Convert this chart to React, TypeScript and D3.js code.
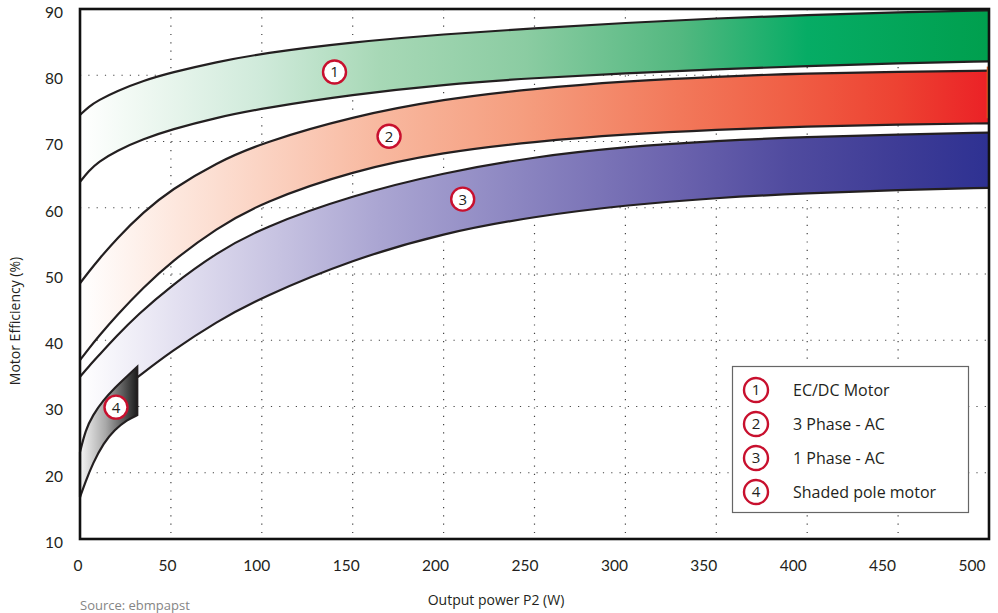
import React from 'react';
import * as d3 from 'd3';

// ---------- data ----------
const xTicks = [0, 50, 100, 150, 200, 250, 300, 350, 400, 450, 500];
const yTicks = [10, 20, 30, 40, 50, 60, 70, 80, 90];

const gridP = [0, 5, 10, 20, 35, 50, 75, 100, 150, 200, 250, 300, 350, 400, 450, 500];
const ecUpper = [74.0, 75.3, 76.2, 77.6, 79.2, 80.4, 82.0, 83.3, 85.0, 86.2, 87.1, 87.9, 88.6, 89.1, 89.5, 89.8];
const ecLower = [63.9, 65.6, 66.9, 68.6, 70.4, 71.8, 73.6, 75.0, 77.1, 78.6, 79.6, 80.3, 80.9, 81.4, 81.8, 82.1];
const threeUpper = [48.6, 50.4, 52.1, 55.3, 59.4, 62.7, 66.8, 69.8, 73.8, 76.4, 78.0, 79.1, 79.8, 80.3, 80.5, 80.7];
const threeLower = [37.0, 38.8, 40.5, 43.7, 48.0, 51.8, 56.9, 60.8, 65.6, 68.4, 70.0, 71.1, 71.8, 72.3, 72.55, 72.75];

const oneUpperP = [0, 5, 10, 20, 31.5, 50, 75, 100, 150, 200, 250, 300, 350, 400, 450, 500];
const oneUpper = [34.5, 36.1, 37.6, 40.6, 43.8, 48.2, 53.2, 57.0, 61.9, 65.3, 67.7, 69.2, 70.1, 70.7, 71.05, 71.35];
const oneLowerP = [31.5, 50, 75, 100, 150, 200, 250, 300, 350, 400, 450, 500];
const oneLower = [34.4, 38.3, 42.8, 46.5, 52.2, 56.2, 58.7, 60.4, 61.5, 62.2, 62.7, 63.0];

const shadedP = [0, 3, 7, 13, 19, 26, 31.5];
const shadedUpper = [23.1, 26.4, 28.7, 31.0, 32.8, 34.6, 36.0];
const shadedLower = [16.3, 18.6, 21.4, 24.5, 26.5, 28.0, 28.7];

const markerLabels = ['1', '2', '3', '4'];
const markerP = [140, 170, 210.5, 19.8];
const markerV = [80.5, 70.8, 61.3, 29.9];

const legendItems = ['EC/DC Motor', '3 Phase - AC', '1 Phase - AC', 'Shaded pole motor'];

const greenStops: [number, string][] = [[0, '#ffffff'], [0.05, '#f3faf5'], [0.2, '#cfeada'], [0.33, '#a7d8b6'], [0.49, '#8bcca2'], [0.66, '#53b880'], [0.8, '#06ac65'], [1, '#009f4e']];
const redStops: [number, string][] = [[0, '#ffffff'], [0.11, '#fde6dc'], [0.33, '#f8b89f'], [0.49, '#f59d7e'], [0.66, '#f2785a'], [0.78, '#f05f45'], [0.9, '#ed4232'], [1, '#eb2126']];
const blueStops: [number, string][] = [[0, '#ffffff'], [0.11, '#e2dff0'], [0.33, '#aaa5d2'], [0.49, '#8a84c0'], [0.66, '#6a62ad'], [0.78, '#504b9f'], [0.9, '#3e3c96'], [1, '#2e3192']];
const grayStops: [number, string][] = [[0, '#f6f6f6'], [0.45, '#a8a8a8'], [1, '#1c1c1c']];

// ---------- scales ----------
const W = 998, H = 613;
const x = d3.scaleLinear().domain([0, 500]).range([80, 989]);
const xLabel = d3.scaleLinear().domain([0, 500]).range([78, 972]);
const y = d3.scaleLinear().domain([10, 90]).range([539, 9]);

const INK = '#231f20';
const RED = '#c8102e';

// smooth line through (P[i], v[i]); reverse=true traces it from right to left
function linePath(P: number[], v: number[], reverse = false) {
  let idx = d3.range(P.length);
  if (reverse) idx = idx.reverse();
  const gen = d3.line<number>()
    .x((i) => x(P[i]))
    .y((i) => y(v[i]))
    .curve(d3.curveBasis);
  return gen(idx) as string;
}
// closed band: upper edge left->right, then each lower piece right->left
function bandPath(upP: number[], up: number[], lowers: [number[], number[]][]) {
  let d = linePath(upP, up);
  lowers.forEach(([P, v]) => {
    d += linePath(P, v, true).replace(/^M/, 'L');
  });
  return d + 'Z';
}

function Grad({ id, stops, x1, x2 }: { id: string; stops: [number, string][]; x1: number; x2: number }) {
  return (
    <linearGradient id={id} gradientUnits="userSpaceOnUse" x1={x1} x2={x2} y1={0} y2={0}>
      {stops.map(([o, c], i) => <stop key={i} offset={o} stopColor={c} />)}
    </linearGradient>
  );
}

export default function App() {
  const axisFont = 'Lato, "Open Sans", sans-serif';
  const legFont = '"Open Sans", "Noto Sans", sans-serif';
  const lastI = threeUpper.length - 1;
  const edge = { fill: 'none', stroke: INK, strokeWidth: 2.2 };
  return (
    <div style={{ position: 'absolute', left: 0, top: 0 }}>
      <svg width={W} height={H} style={{ display: 'block', background: '#fff' }}>
        <defs>
          <Grad id="gGreen" stops={greenStops} x1={x(0)} x2={x(500)} />
          <Grad id="gRed" stops={redStops} x1={x(0)} x2={x(500)} />
          <Grad id="gBlue" stops={blueStops} x1={x(0)} x2={x(500)} />
          <Grad id="gGray" stops={grayStops} x1={x(0)} x2={x(31.5)} />
        </defs>

        {/* grid */}
        <g stroke="#444" strokeWidth={1.2} strokeDasharray="1.2 7.1">
          {yTicks.slice(1, -1).map((t) => (
            <line key={'h' + t} x1={x(0)} x2={x(500)} y1={y(t)} y2={y(t)} />
          ))}
          {xTicks.slice(1, -1).map((t) => (
            <line key={'v' + t} x1={x(t)} x2={x(t)} y1={y(90)} y2={y(10) - 6} />
          ))}
        </g>

        {/* EC/DC */}
        <path d={bandPath(gridP, ecUpper, [[gridP, ecLower]])} fill="url(#gGreen)" />
        <path d={linePath(gridP, ecUpper)} {...edge} />
        <path d={linePath(gridP, ecLower)} {...edge} />

        {/* 3 phase */}
        <path d={bandPath(gridP, threeUpper, [[gridP, threeLower]])} fill="url(#gRed)" />
        <path d={linePath(gridP, threeUpper)} {...edge} />
        <path d={linePath(gridP, threeLower)} {...edge} />
        <line x1={x(500) - 1} x2={x(500) - 1} y1={y(threeUpper[lastI]) - 4} y2={y(threeLower[lastI]) - 5} stroke="#f26522" strokeWidth={2.5} />

        {/* 1 phase */}
        <path d={bandPath(oneUpperP, oneUpper, [[oneLowerP, oneLower], [shadedP, shadedUpper]])} fill="url(#gBlue)" />
        <path d={linePath(oneUpperP, oneUpper)} {...edge} />
        <path d={linePath(oneLowerP, oneLower)} {...edge} />

        {/* shaded pole */}
        <path d={bandPath(shadedP, shadedUpper, [[shadedP, shadedLower]])} fill="url(#gGray)" stroke={INK} strokeWidth={2.2} strokeLinejoin="miter" />

        {/* frame */}
        <rect x={x(0)} y={y(90)} width={x(500) - x(0)} height={y(10) - y(90)} fill="none" stroke="#111" strokeWidth={2.6} />

        {/* markers */}
        {markerLabels.map((m, i) => (
          <g key={m} transform={`translate(${x(markerP[i])},${y(markerV[i])})`}>
            <circle r={11.5} fill="#fff" stroke={RED} strokeWidth={2.4} />
            <text textAnchor="middle" dy="0.36em" fontSize={15} fontFamily={legFont} fill={INK}>{m}</text>
          </g>
        ))}

        {/* y ticks */}
        {yTicks.map((t) => (
          <text key={'yt' + t} x={63} y={y(t) + 5} textAnchor="end" dominantBaseline="middle" fontSize={15.5} fontFamily={axisFont} fill={INK}>{t}</text>
        ))}
        {/* x ticks */}
        {xTicks.map((t) => (
          <text key={'xt' + t} x={xLabel(t)} y={571} textAnchor="middle" fontSize={15.5} fontFamily={axisFont} fill={INK}>{t}</text>
        ))}

        <text x={496} y={605} textAnchor="middle" fontSize={14} fontFamily={legFont} fill={INK}>Output power P2 (W)</text>
        <text transform="translate(20,321) rotate(-90)" textAnchor="middle" fontSize={14} fontFamily={legFont} fill={INK}>Motor Efficiency (%)</text>
        <text x={80} y={610} fontSize={13} fontFamily={legFont} fill="#858585">Source: ebmpapst</text>

        {/* legend */}
        <rect x={732.5} y={366.5} width={236} height={146} fill="#fff" stroke="#666" strokeWidth={1.2} />
        {legendItems.map((t, i) => (
          <g key={t} transform={`translate(0,${390 + i * 34})`}>
            <circle cx={756} cy={0} r={12} fill="#fff" stroke={RED} strokeWidth={2.4} />
            <text x={756} y={0} dy="0.36em" textAnchor="middle" fontSize={15} fontFamily={legFont} fill={INK}>{markerLabels[i]}</text>
            <text x={793} y={0} dy="0.36em" fontSize={16} fontFamily={legFont} fill={INK}>{t}</text>
          </g>
        ))}
      </svg>
    </div>
  );
}
